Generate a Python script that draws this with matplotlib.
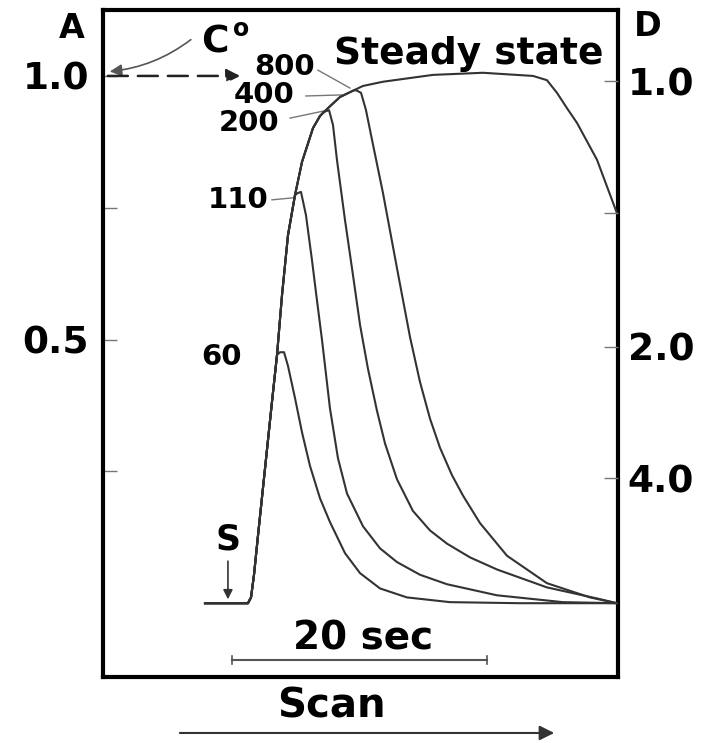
import matplotlib
matplotlib.use("Agg")
import matplotlib.pyplot as plt
import numpy as np

plt.rcParams["font.family"] = ["DejaVu Sans"]
plt.rcParams["font.weight"] = "bold"

# shared rising edge (time in s, absorbance A)
rise_t = [8.00, 11.37, 11.61, 11.84, 12.16, 12.71, 13.25, 13.65, 14.04, 14.51,
          15.06, 15.61, 16.47, 17.02, 17.65, 18.59, 19.61]
rise_a = [0.0, 0.0, 0.011, 0.053, 0.129, 0.256, 0.381, 0.471, 0.584, 0.698,
          0.774, 0.837, 0.901, 0.924, 0.939, 0.960, 0.972]

# falling parts, one per injected volume
tail_60_t = [13.88, 14.20, 14.51, 15.06, 15.61, 16.24, 17.02, 17.80, 18.98, 20.16,
             21.73, 23.84, 27.22, 32.71, 40.31]
tail_60_a = [0.476, 0.476, 0.450, 0.389, 0.324, 0.260, 0.199, 0.154, 0.095, 0.057,
             0.028, 0.011, 0.002, 0.0, 0.0]

tail_110_t = [15.29, 15.53, 15.92, 16.39, 16.78, 17.18, 17.80, 18.43, 19.14, 20.39,
              21.73, 23.06, 24.86, 26.98, 30.90, 36.08, 40.31]
tail_110_a = [0.778, 0.780, 0.736, 0.651, 0.575, 0.499, 0.370, 0.275, 0.208, 0.146,
              0.104, 0.078, 0.054, 0.036, 0.015, 0.002, 0.0]

tail_200_t = [17.33, 17.73, 18.04, 18.35, 18.98, 19.61, 20.16, 20.78, 21.49, 22.12,
              23.06, 24.31, 25.65, 26.98, 28.78, 30.90, 34.82, 38.75, 40.31]
tail_200_a = [0.932, 0.935, 0.907, 0.841, 0.727, 0.622, 0.528, 0.445, 0.365, 0.303,
              0.235, 0.175, 0.138, 0.113, 0.087, 0.064, 0.030, 0.009, 0.0]

tail_400_t = [19.84, 20.24, 20.63, 21.10, 21.96, 23.14, 24.08, 24.86, 25.65, 26.43,
              27.37, 28.24, 29.57, 31.69, 34.82, 38.20, 40.31]
tail_400_a = [0.973, 0.968, 0.935, 0.879, 0.778, 0.625, 0.505, 0.420, 0.350, 0.295,
              0.243, 0.204, 0.152, 0.090, 0.038, 0.011, 0.0]

tail_800_t = [20.39, 21.96, 25.88, 29.80, 33.73, 34.82, 35.61, 36.39, 37.18, 38.75, 40.31]
tail_800_a = [0.981, 0.989, 1.002, 1.006, 1.000, 0.992, 0.968, 0.939, 0.911, 0.841, 0.740]

left_ticks = [1.0, 0.75, 0.5, 0.25]
left_labels = ["1.0", "", "0.5", ""]
right_ticks = [0.99, 0.74, 0.486, 0.237]
right_labels = ["1.0", "", "2.0", "4.0"]

curves = [
    ("60", tail_60_t, tail_60_a),
    ("110", tail_110_t, tail_110_a),
    ("200", tail_200_t, tail_200_a),
    ("400", tail_400_t, tail_400_a),
    ("800", tail_800_t, tail_800_a),
]

fig = plt.figure(figsize=(7.09, 7.43), dpi=100)
ax = fig.add_axes([0.1453, 0.0888, 0.7264, 0.8977])
ax.set_xlim(0, 40.4)
ax.set_ylim(-0.140, 1.125)

line_col = "#333333"
for name, tt, aa in curves:
    rt = np.array(rise_t)
    ra = np.array(rise_a)
    keep = rt < tt[0]
    x = np.concatenate([rt[keep], tt])
    y = np.concatenate([ra[keep], aa])
    ax.plot(x, y, color=line_col, lw=1.5, solid_joinstyle="round", zorder=3)

for s in ax.spines.values():
    s.set_linewidth(3)
    s.set_color("black")

ax.set_xticks([])
ax.set_yticks(left_ticks)
ax.set_yticklabels(left_labels, fontsize=27, fontweight="bold")
ax.tick_params(axis="y", direction="in", length=10, width=1, color="#777777", pad=10)

ax2 = ax.twinx()
ax2.set_ylim(ax.get_ylim())
ax2.set_yticks(right_ticks)
ax2.set_yticklabels(right_labels, fontsize=27, fontweight="bold")
ax2.tick_params(axis="y", direction="in", length=10, width=1, color="#777777", pad=7)
for s in ax2.spines.values():
    s.set_visible(False)

# axis letters
fig.text(0.1016, 0.9617, "A", fontsize=24, ha="center", va="center")
fig.text(0.914, 0.964, "D", fontsize=24, ha="center", va="center")

# C0 marker and arrows
ax.text(8.78, 1.063, "C", fontsize=27, ha="center", va="center")
ax.text(10.82, 1.089, "o", fontsize=17, ha="center", va="center")
ax.annotate("", xy=(0.31, 1.008), xytext=(7.06, 1.072),
            arrowprops=dict(arrowstyle="-|>", color="#555555", lw=1.2,
                            mutation_scale=18, connectionstyle="arc3,rad=-0.15"))
ax.annotate("", xy=(10.98, 1.0), xytext=(0.16, 1.0),
            arrowprops=dict(arrowstyle="-|>", color="#222222", lw=1.8, ls=(0, (8, 4)),
                            mutation_scale=20))

# volume labels with leaders
ax.text(14.27, 1.017, "800", fontsize=21, ha="center", va="center")
ax.plot([16.86, 19.37], [1.011, 0.977], color="#777777", lw=1)
ax.text(12.63, 0.964, "400", fontsize=21, ha="center", va="center")
ax.plot([15.92, 18.75], [0.962, 0.964], color="#777777", lw=1)
ax.text(11.45, 0.911, "200", fontsize=21, ha="center", va="center")
ax.plot([14.67, 17.41], [0.920, 0.934], color="#777777", lw=1)
ax.text(10.59, 0.765, "110", fontsize=21, ha="center", va="center")
ax.plot([13.25, 14.98], [0.765, 0.769], color="#777777", lw=1)
ax.text(9.33, 0.467, "60", fontsize=21, ha="center", va="center")
ax.text(28.71, 1.042, "Steady state", fontsize=27, ha="center", va="center")

# start marker
ax.text(9.80, 0.120, "S", fontsize=25, ha="center", va="center")
ax.annotate("", xy=(9.80, 0.002), xytext=(9.80, 0.085),
            arrowprops=dict(arrowstyle="-|>", color="#333333", lw=1.2, mutation_scale=14))

# 20 s scale bar
ax.text(20.39, -0.066, "20 sec", fontsize=28, ha="center", va="center")
ax.plot([10.12, 30.12], [-0.108, -0.108], color="#555555", lw=1.5)
ax.plot([10.12, 10.12], [-0.116, -0.100], color="#555555", lw=1.2)
ax.plot([30.12, 30.12], [-0.116, -0.100], color="#555555", lw=1.2)

# scan direction
fig.text(0.468, 0.0485, "Scan", fontsize=29, ha="center", va="center")
fig.patches.append(matplotlib.patches.FancyArrowPatch(
    (0.2497, 0.0135), (0.7856, 0.0135), transform=fig.transFigure,
    arrowstyle="-|>", mutation_scale=22, color="#333333", lw=1.5))

fig.savefig("out.png", dpi=100)
